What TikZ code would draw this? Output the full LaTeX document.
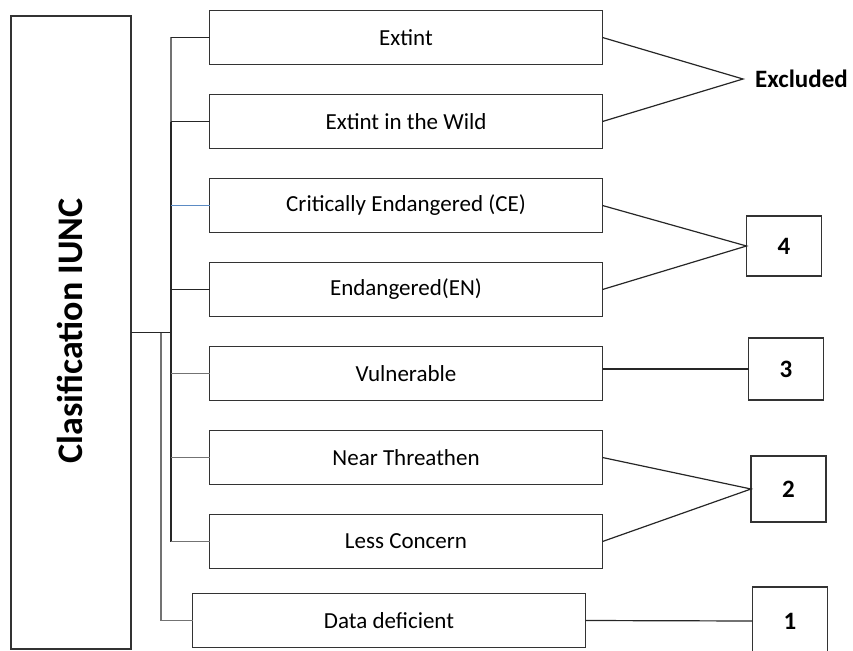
\documentclass[tikz,border=0pt]{standalone}
\usepackage{fontspec}
\setmainfont{Carlito}
\usetikzlibrary{positioning}
\definecolor{ceblue}{RGB}{91,139,196}
\tikzset{
	box/.style={draw=black!80, line width=1.3pt, minimum width=393pt, minimum height=54pt, inner sep=0pt, outer sep=0pt, font=\fontsize{23}{27}\selectfont}, % category boxes
	num/.style={draw=black!80, line width=1.3pt, minimum width=75pt, minimum height=62pt, inner sep=0pt, outer sep=0pt, font=\fontsize{25}{28}\selectfont\bfseries}, % boxes with the score
	link/.style={line width=1.2pt, black!85}, % dark connectors
	glink/.style={line width=1.2pt, black!55}, % grey connectors
}

\begin{document}
\begin{tikzpicture}[x=1pt, y=-1pt]
	\useasboundingbox (0,0) rectangle (853,650);

	% left box
	\node[draw=black!80, line width=1.3pt, minimum width=120pt, minimum height=633pt, inner sep=0pt, outer sep=0pt] (cls) at (71,332.5) {};
	\node[rotate=90, font=\fontsize{36}{40}\selectfont\bfseries] (ttl) at (70,331) {Clasification IUNC};

	% categories
	\node[box] (ext) at (406,37.5) {Extint};
	\node[box, below=30pt of ext] (ew) {Extint in the Wild};
	\node[box, below=30pt of ew] (ce) {Critically Endangered (CE)};
	\node[box, below=30pt of ce] (en) {Endangered(EN)};
	\node[box, below=30pt of en] (vu) {Vulnerable};
	\node[box, below=30pt of vu] (nt) {Near Threathen};
	\node[box, below=30pt of nt] (lc) {Less Concern};
	\node[box, below=25pt of lc, xshift=-17pt] (dd) {Data deficient};

	% scores
	\coordinate (exj) at (743,79);
	\node[right=12pt of exj, inner sep=0pt, font=\fontsize{25}{28}\selectfont\bfseries] (excl) {Excluded};
	\node[num, minimum height=60pt] (n4) at (784,246) {4};
	\node[num] (n3) at (786,369) {3};
	\node[num, minimum height=66pt] (n2) at (788.5,489) {2};
	\node[num, minimum height=68pt] (n1) at (790,621) {1};

	% tree on the left
	\coordinate (tr) at (171,332.5);
	\coordinate (tr2) at (161,332.5);
	\draw[link] (cls.east) -- (tr);
	\draw[glink] (tr |- ext.west) -- (tr |- ew.west);
	\draw[link] (tr |- ew.west) -- (tr |- lc.west);
	\draw[glink] (tr2) |- (dd.west);
	\foreach \b in {ext,ew,en}
		\draw[link] (tr |- \b.west) -- (\b.west);
	\draw[line width=1.2pt, ceblue] (tr |- ce.west) -- (ce.west);
	\foreach \b in {vu,nt,lc}
		\draw[glink] (tr |- \b.west) -- (\b.west);

	% links to the scores
	\draw[link] (ext.east) -- (exj) -- (ew.east);
	\draw[link] (ce.east) -- (n4.west) -- (en.east);
	\draw[link] (n3.west -| vu.east) -- (n3.west);
	\draw[link] (nt.east) -- (n2.west) -- (lc.east);
	\draw[link] (dd.east) -- (n1.west);
\end{tikzpicture}
\end{document}
